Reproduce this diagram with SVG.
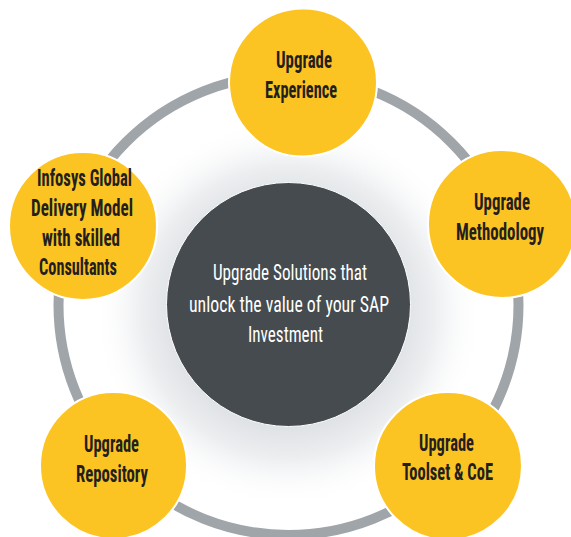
<svg xmlns="http://www.w3.org/2000/svg" width="571" height="537" viewBox="0 0 571 537">
  <style>
    .node circle { fill: #fcc423; stroke: #ffffff; stroke-width: 2; }
    .node text { font-family: "Liberation Sans Narrow", "Roboto Condensed", "DejaVu Sans Condensed", "Liberation Sans", sans-serif; font-weight: bold; font-size: 24px; fill: #231f20; text-anchor: middle; }
    .hub text { font-family: "Liberation Sans Narrow", "Roboto Condensed", "DejaVu Sans Condensed", "Liberation Sans", sans-serif; font-size: 22.5px; fill: #ffffff; text-anchor: middle; }
    .ring { fill: none; stroke: #a0a5aa; stroke-width: 10; }
  </style>
  <defs>
    <radialGradient id="halo" cx="288" cy="312" r="195" gradientUnits="userSpaceOnUse">
      <stop offset="0.55" stop-color="#dcdfe2"/>
      <stop offset="0.75" stop-color="#eceef0"/>
      <stop offset="1" stop-color="#ffffff" stop-opacity="0"/>
    </radialGradient>
  </defs>
  <rect width="571" height="537" fill="#ffffff"/>
  <g id="connectors">
    <circle class="ring" cx="288.5" cy="305" r="230"/>
  </g>
  <circle cx="288" cy="312" r="195" fill="url(#halo)"/>
  <g id="hub" class="hub">
    <circle cx="288.5" cy="304.5" r="122" fill="#454b4e" stroke="#ffffff" stroke-width="1"/>
    <text x="290" y="280" textLength="154" lengthAdjust="spacingAndGlyphs">Upgrade Solutions that</text>
    <text x="289" y="312" textLength="200" lengthAdjust="spacingAndGlyphs">unlock the value of your SAP</text>
    <text x="285.5" y="342" textLength="75" lengthAdjust="spacingAndGlyphs">Investment</text>
  </g>
  <g id="node-experience" class="node">
    <circle cx="303" cy="82.5" r="74"/>
    <text x="304" y="68" textLength="56" lengthAdjust="spacingAndGlyphs">Upgrade</text>
    <text x="301" y="98" textLength="72" lengthAdjust="spacingAndGlyphs">Experience</text>
  </g>
  <g id="node-methodology" class="node">
    <circle cx="502" cy="224" r="74"/>
    <text x="502" y="210" textLength="56" lengthAdjust="spacingAndGlyphs">Upgrade</text>
    <text x="500" y="240" textLength="88" lengthAdjust="spacingAndGlyphs">Methodology</text>
  </g>
  <g id="node-toolset" class="node">
    <circle cx="448" cy="466" r="74"/>
    <text x="446.5" y="451" textLength="55" lengthAdjust="spacingAndGlyphs">Upgrade</text>
    <text x="447.5" y="480" textLength="91" lengthAdjust="spacingAndGlyphs">Toolset &amp; CoE</text>
  </g>
  <g id="node-repository" class="node">
    <circle cx="113.5" cy="465.5" r="73.5"/>
    <text x="111.5" y="452" textLength="55" lengthAdjust="spacingAndGlyphs">Upgrade</text>
    <text x="112" y="482" textLength="72" lengthAdjust="spacingAndGlyphs">Repository</text>
  </g>
  <g id="node-delivery" class="node">
    <circle cx="83" cy="226" r="74"/>
    <text x="84.5" y="186" textLength="95" lengthAdjust="spacingAndGlyphs">Infosys Global</text>
    <text x="82" y="216" textLength="102" lengthAdjust="spacingAndGlyphs">Delivery Model</text>
    <text x="81" y="246" textLength="78" lengthAdjust="spacingAndGlyphs">with skilled</text>
    <text x="78" y="275" textLength="78" lengthAdjust="spacingAndGlyphs">Consultants</text>
  </g>
</svg>
